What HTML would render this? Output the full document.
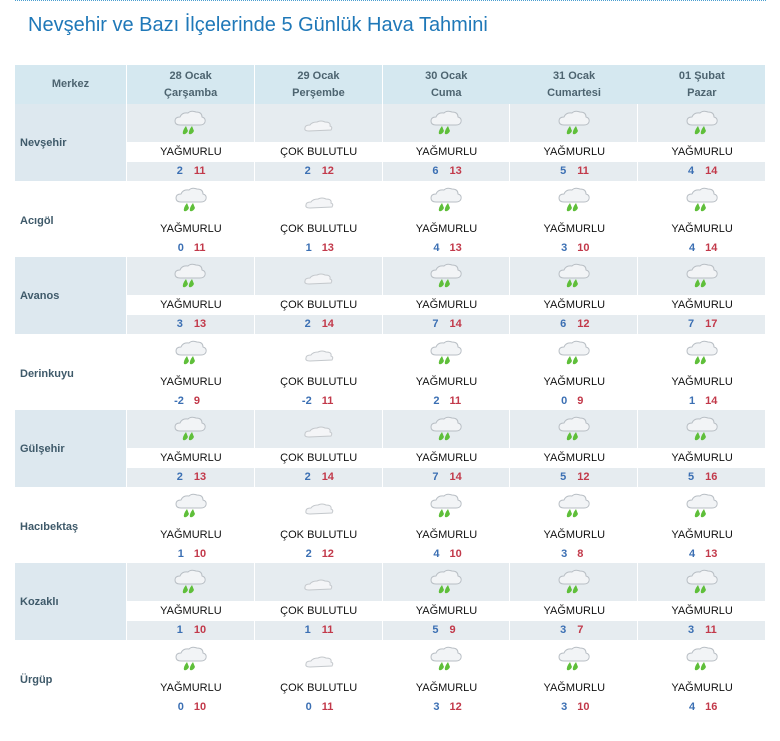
<!DOCTYPE html>
<html><head><meta charset="utf-8">
<style>
body{margin:0;background:#fff;font-family:"Liberation Sans",sans-serif;}
#wrap{position:relative;width:780px;height:741px;overflow:hidden;}
.dot{position:absolute;left:15px;top:0;width:751px;border-top:1px dotted #4a9fd0;}
h1{position:absolute;left:28px;top:14px;margin:0;font-weight:normal;font-size:20px;color:#1f78b8;white-space:nowrap;}
.c{position:absolute;box-sizing:border-box;text-align:center;}
.hd{background:#d5e8f0;color:#4d6470;font-weight:bold;font-size:11px;line-height:17px;border-right:1px solid #fff;}
.nm{color:#3f5a6a;font-weight:bold;font-size:11px;text-align:left;padding-left:5px;border-right:1px solid #fff;}
.desc{font-size:11px;color:#111;}
.lo{color:#3b6fb3;font-weight:bold;font-size:11px;}
.hi{color:#c2394a;font-weight:bold;font-size:11px;}
</style></head><body>
<div id="wrap">
<div class="dot"></div>
<h1>Nevşehir ve Bazı İlçelerinde 5 Günlük Hava Tahmini</h1>
<div id="tbl"></div>
</div>
<script>
const dates=["28 Ocak","29 Ocak","30 Ocak","31 Ocak","01 Şubat"];
const days=["Çarşamba","Perşembe","Cuma","Cumartesi","Pazar"];
const places=["Nevşehir","Acıgöl","Avanos","Derinkuyu","Gülşehir","Hacıbektaş","Kozaklı","Ürgüp"];
const conds=[[1,0,1,1,1],[1,0,1,1,1],[1,0,1,1,1],[1,0,1,1,1],[1,0,1,1,1],[1,0,1,1,1],[1,0,1,1,1],[1,0,1,1,1]];
const lows=[[2,2,6,5,4],[0,1,4,3,4],[3,2,7,6,7],[-2,-2,2,0,1],[2,2,7,5,5],[1,2,4,3,4],[1,1,5,3,3],[0,0,3,3,4]];
const highs=[[11,12,13,11,14],[11,13,13,10,14],[13,14,14,12,17],[9,11,11,9,14],[13,14,14,12,16],[10,12,10,8,13],[10,11,9,7,11],[10,11,12,10,16]];
const condNames=["ÇOK BULUTLU","YAĞMURLU"];
const T=document.getElementById('wrap');
const X0=15,NW=112,CW=127.8,HY=65,HH=39,RH=76.5;
function mk(cls,x,y,w,h,html,bg){const d=document.createElement('div');d.className='c '+cls;d.style.left=x+'px';d.style.top=y+'px';d.style.width=w+'px';d.style.height=h+'px';if(bg)d.style.background=bg;d.innerHTML=html||'';T.appendChild(d);return d;}
let e=mk('hd',X0,HY,NW,HH,'<div style="padding-top:11px">Merkez</div>');


dates.forEach((d,i)=>{const h=mk('hd',X0+NW+i*CW,HY,CW+0.5,HH,'<div style="padding-top:3px">'+d+'<br>'+days[i]+'</div>');

});
const rain='<svg width="38" height="30" viewBox="0 0 38 30"><path d="M9 16 q-5 0 -5 -4 q0-4 5-4 q2-5 8-4 q3-3 8-1 q6 0 6 5 q4 1 3 5 q-1 3 -5 3z" fill="#f2f4f6" stroke="#b8bec4" stroke-width="1"/><path d="M15 17 q-4 5 -3 8 q3 1 5-3z" fill="#5fbf3a"/><path d="M21 17 q-4 5 -3 8 q3 1 5-3z" fill="#5fbf3a"/></svg>';
const cloud='<svg width="38" height="30" viewBox="0 0 38 30"><path d="M10 22 q-5 0 -4 -3 q0-3 5-3 q2-3 7-3 q4-2 8 0 q6 0 5 4 q3 1 1 4z" fill="#f4f5f7" stroke="#c4c8cc" stroke-width="1"/></svg>';
places.forEach((p,r)=>{
 const y=HY+HH+r*RH, odd=r%2==0;
 const n=mk('nm',X0,y,NW,RH,'<div style="padding-top:'+(r%2==0?33:34)+'px">'+p+'</div>',odd?'#dde8ef':'#fff');
 
 
 for(let i=0;i<5;i++){
  const x=X0+NW+i*CW;
  const ic=mk('',x,y,CW,38,'<div style="padding-top:5px">'+(conds[r][i]?rain:cloud)+'</div>',odd?'#e6ecf0':'#fff');
  if(odd)ic.style.borderRight='1px solid #fff';
  
  
  const ds=mk('desc',x,y+38,CW,20,'<div style="padding-top:4px">'+condNames[conds[r][i]]+'</div>','#fff');
  
  
  const tp=mk('',x,y+58,CW,18.5,'<div style="padding-top:3px;position:relative;height:14px"><span class="lo" style="position:absolute;right:'+(CW/2+7)+'px">'+lows[r][i]+'</span><span class="hi" style="position:absolute;left:'+(CW/2+3)+'px">'+highs[r][i]+'</span></div>',odd?'#e6ecf0':'#fff');
  if(odd)tp.style.borderRight='1px solid #fff';
  
  
 }
});
</script>
</body></html>
